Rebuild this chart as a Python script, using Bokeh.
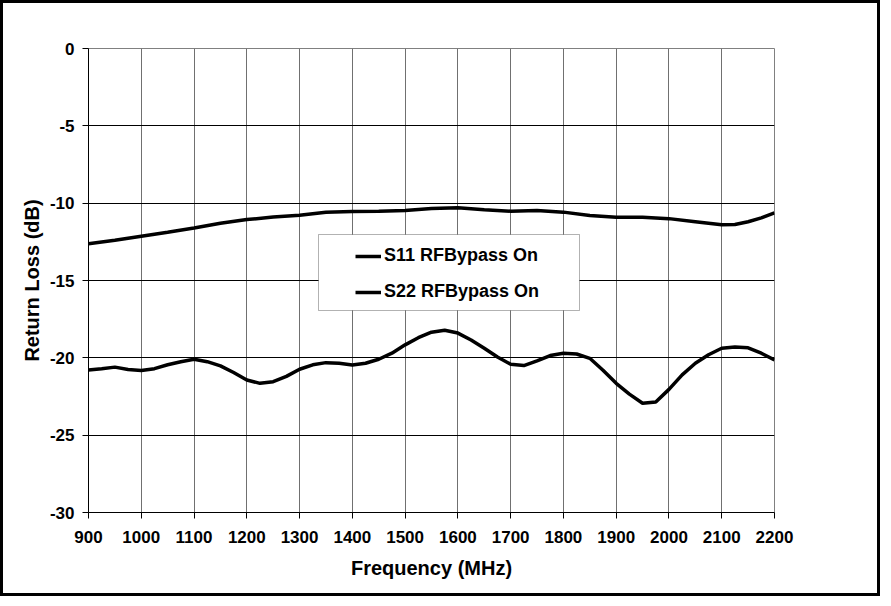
from bokeh.plotting import figure
from bokeh.models import Range1d, FixedTicker, Legend, LegendItem, BoxAnnotation, PrintfTickFormatter
from bokeh.embed import file_html
from bokeh.resources import INLINE

# ---- data ----
s11_freq = [900, 950, 1000, 1050, 1100, 1150, 1200, 1250, 1300, 1350, 1400, 1450,
            1500, 1550, 1600, 1650, 1700, 1750, 1800, 1850, 1900, 1950, 2000, 2050,
            2100, 2125, 2150, 2175, 2200]
s11_db = [-12.62, -12.4, -12.14, -11.88, -11.6, -11.3, -11.06, -10.9, -10.78, -10.58,
          -10.54, -10.52, -10.48, -10.35, -10.3, -10.42, -10.52, -10.48, -10.58, -10.8,
          -10.91, -10.91, -11.0, -11.2, -11.4, -11.38, -11.2, -10.95, -10.63]

s22_freq = [900, 925, 950, 975, 1000, 1025, 1050, 1075, 1100, 1125, 1150, 1175, 1200,
            1225, 1250, 1275, 1300, 1325, 1350, 1375, 1400, 1425, 1450, 1475, 1500,
            1525, 1550, 1575, 1600, 1625, 1650, 1675, 1700, 1725, 1750, 1775, 1800,
            1825, 1850, 1875, 1900, 1925, 1950, 1975, 2000, 2025, 2050, 2075, 2100,
            2125, 2150, 2175, 2200]
s22_db = [-20.79, -20.7, -20.6, -20.75, -20.82, -20.7, -20.45, -20.25, -20.09, -20.25,
          -20.52, -20.95, -21.43, -21.65, -21.54, -21.2, -20.74, -20.45, -20.31, -20.35,
          -20.46, -20.35, -20.09, -19.7, -19.16, -18.7, -18.34, -18.22, -18.4, -18.85,
          -19.38, -19.95, -20.42, -20.5, -20.2, -19.85, -19.7, -19.75, -20.03, -20.8,
          -21.65, -22.35, -22.94, -22.85, -22.04, -21.1, -20.35, -19.8, -19.38, -19.3,
          -19.35, -19.7, -20.14]

x_ticks = list(range(900, 2201, 100))
y_ticks = [0, -5, -10, -15, -20, -25, -30]
series_names = ["S11 RFBypass On", "S22 RFBypass On"]

FONT = "Liberation Sans"

p = figure(width=880, height=596, output_backend="svg", toolbar_location=None,
           x_range=Range1d(900, 2200), y_range=Range1d(-30, 0),
           min_border_left=85, min_border_right=109, min_border_top=45,
           min_border_bottom=87)
p.styles = {"border": "3px solid black"}
p.background_fill_color = "white"
p.border_fill_color = "white"
p.outline_line_color = "#808080"
p.outline_line_width = 1

p.xaxis.ticker = FixedTicker(ticks=x_ticks)
p.yaxis.ticker = FixedTicker(ticks=y_ticks)
p.xaxis.formatter = PrintfTickFormatter(format="%d")
p.yaxis.formatter = PrintfTickFormatter(format="%d")
p.xaxis.minor_tick_line_color = None
p.yaxis.minor_tick_line_color = None
for ax in (p.xaxis[0], p.yaxis[0]):
    ax.axis_line_color = "black"
    ax.axis_line_width = 1
    ax.major_tick_line_color = "black"
    ax.major_tick_in = 0
    ax.major_tick_out = 6
    ax.major_label_text_font = FONT
    ax.major_label_text_font_style = "bold"
    ax.major_label_text_font_size = "17px"
    ax.major_label_text_color = "black"
    ax.axis_label_text_font = FONT
    ax.axis_label_text_font_style = "bold"
    ax.axis_label_text_font_size = "20px"
    ax.axis_label_text_color = "black"
p.xaxis.major_label_standoff = 12
p.yaxis.major_label_standoff = 8
p.xaxis.axis_label = "Frequency (MHz)"
p.yaxis.axis_label = "Return Loss (dB)"
p.xaxis.axis_label_standoff = 11
p.yaxis.axis_label_standoff = 4

p.xgrid.grid_line_color = "#707070"
p.xgrid.grid_line_width = 1
p.ygrid.grid_line_color = "black"
p.ygrid.grid_line_width = 1

r1 = p.line(s11_freq, s11_db, line_color="black", line_width=3.5)
r2 = p.line(s22_freq, s22_db, line_color="black", line_width=3.5)

box = BoxAnnotation(left=230, right=491, bottom=202, top=278,
                    left_units="screen", right_units="screen",
                    bottom_units="screen", top_units="screen",
                    fill_color="white", fill_alpha=1.0,
                    line_color="black", line_width=1, level="annotation")
p.add_layout(box)

legend = Legend(items=[LegendItem(label=series_names[0], renderers=[r1]),
                       LegendItem(label=series_names[1], renderers=[r2])],
                location=(259, 202), margin=0, padding=8,
                spacing=15, glyph_width=26, glyph_height=20, label_standoff=3,
                label_text_font=FONT, label_text_font_style="bold",
                label_text_font_size="18px", label_text_color="black",
                border_line_alpha=0, background_fill_alpha=0)
p.add_layout(legend)

open("out.html", "w").write(file_html(p, INLINE))
